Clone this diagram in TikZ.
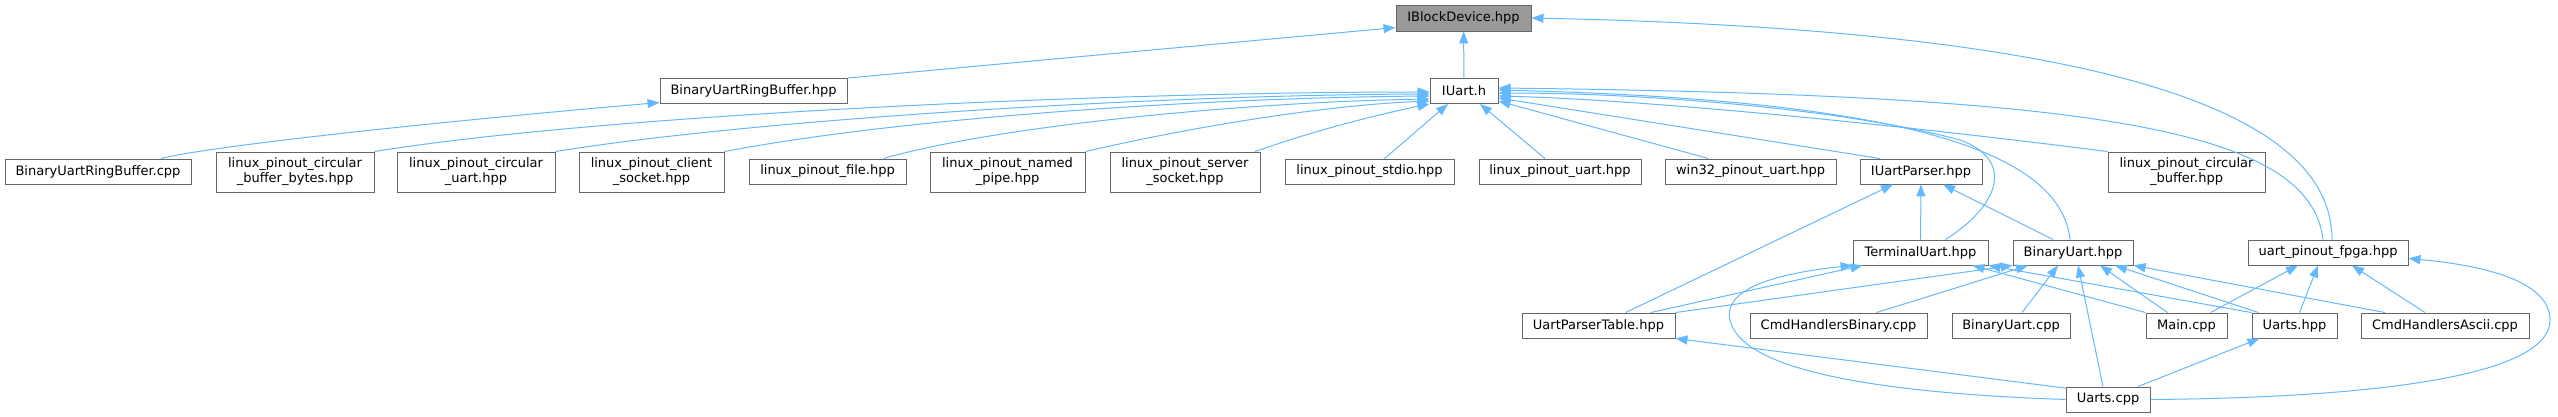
\documentclass[tikz,border=0pt]{standalone}
\usepackage{fontspec}
\setmainfont{DejaVu Sans}
\usepackage{xcolor}
\usetikzlibrary{arrows.meta}

\definecolor{edgeblue}{HTML}{63B8FF}
\definecolor{boxgray}{HTML}{666666}
\definecolor{rootfill}{HTML}{999999}

\begin{document}
\begin{tikzpicture}[x=1pt,y=-1pt,
	filebox/.style={draw=boxgray,line width=0.9pt,fill=white,inner sep=0pt,minimum height=25,font=\fontsize{13}{15}\selectfont,align=center},
	tallbox/.style={filebox,minimum height=40},
	rootbox/.style={filebox,fill=rootfill,minimum height=26},
	incl/.style={draw=edgeblue,line width=1pt,-{Triangle[length=12pt,width=9pt]}}]
		\useasboundingbox (0,0) rectangle (2558,417);
		\node[rootbox,minimum width=135] (iblock) at (1463.5,18) {IBlockDevice.hpp};
		\node[filebox,minimum width=187] (burbh) at (753.5,91) {BinaryUartRingBuffer.hpp};
		\node[filebox,minimum width=68] (iuart) at (1464,91) {IUart.h};
		\node[filebox,minimum width=186] (burbc) at (98,171.5) {BinaryUartRingBuffer.cpp};
		\node[tallbox,minimum width=158] (cbytes) at (295,172) {linux\_pinout\_circular\\\_buffer\_bytes.hpp};
		\node[tallbox,minimum width=158] (cuart) at (476,172) {linux\_pinout\_circular\\\_uart.hpp};
		\node[tallbox,minimum width=145] (client) at (651.5,172) {linux\_pinout\_client\\\_socket.hpp};
		\node[filebox,minimum width=157] (lfile) at (827.5,171.5) {linux\_pinout\_file.hpp};
		\node[tallbox,minimum width=155] (pipe) at (1007.5,172) {linux\_pinout\_named\\\_pipe.hpp};
		\node[tallbox,minimum width=150] (server) at (1185,172) {linux\_pinout\_server\\\_socket.hpp};
		\node[filebox,minimum width=169] (stdio) at (1369.5,171.5) {linux\_pinout\_stdio.hpp};
		\node[filebox,minimum width=162] (luart) at (1560,171.5) {linux\_pinout\_uart.hpp};
		\node[filebox,minimum width=171] (win) at (1750.5,171.5) {win32\_pinout\_uart.hpp};
		\node[filebox,minimum width=122] (parser) at (1921,171.5) {IUartParser.hpp};
		\node[tallbox,minimum width=157] (cbuf) at (2186.5,172) {linux\_pinout\_circular\\\_buffer.hpp};
		\node[filebox,minimum width=135] (term) at (1920.5,252.5) {TerminalUart.hpp};
		\node[filebox,minimum width=120] (buart) at (2073,252.5) {BinaryUart.hpp};
		\node[filebox,minimum width=160] (fpga) at (2328,252.5) {uart\_pinout\_fpga.hpp};
		\node[filebox,minimum width=153] (table) at (1598.5,325.5) {UartParserTable.hpp};
		\node[filebox,minimum width=177] (cmdbin) at (1838.5,325.5) {CmdHandlersBinary.cpp};
		\node[filebox,minimum width=118] (buartcpp) at (2011,325.5) {BinaryUart.cpp};
		\node[filebox,minimum width=81] (main) at (2186.5,325.5) {Main.cpp};
		\node[filebox,minimum width=85] (uartsh) at (2294.5,325.5) {Uarts.hpp};
		\node[filebox,minimum width=168] (cmdascii) at (2445,325.5) {CmdHandlersAscii.cpp};
		\node[filebox,minimum width=84] (uartsc) at (2108,399.5) {Uarts.cpp};
		\draw[incl] (iuart) -- (iblock);
		\draw[incl] (burbh.north east) -- (iblock.188);
		\draw[incl] ([xshift=4pt]fpga.north) .. controls (2332,110) and (2100,30) .. (iblock.east);
		\draw[incl] ([xshift=63pt]burbc.north) .. controls (200,148) and (400,125) .. (burbh.187);
		\draw[incl] (cbytes.north east) .. controls (600,115) and (1100,92) .. ([yshift=-1pt]iuart.west);
		\draw[incl] (cuart.north east) .. controls (750,120) and (1150,95) .. ([yshift=-3pt]iuart.west);
		\draw[incl] (client.north east) .. controls (900,118) and (1200,98) .. ([yshift=-5pt]iuart.west);
		\draw[incl] ([xshift=56pt]lfile.north) .. controls (1000,125) and (1250,102) .. ([yshift=-8pt]iuart.west);
		\draw[incl] (pipe.north east) .. controls (1200,125) and (1330,105) .. ([yshift=-10pt]iuart.west);
		\draw[incl] ([xshift=70pt]server.north) .. controls (1330,125) and (1400,110) .. (iuart.south west);
		\draw[incl] ([xshift=15pt]stdio.north) -- ([xshift=-16pt]iuart.south);
		\draw[incl] ([xshift=-15pt]luart.north) -- ([xshift=16pt]iuart.south);
		\draw[incl] ([xshift=-42pt]win.north) -- ([yshift=-10pt]iuart.east);
		\draw[incl] ([xshift=-41pt]parser.north) -- ([yshift=-7pt]iuart.east);
		\draw[incl] (cbuf.north west) .. controls (1900,125) and (1650,100) .. ([yshift=-5pt]iuart.east);
		\draw[incl] ([xshift=25pt]term.north) .. controls (2000,205) and (2015,160) .. (1960,140) .. controls (1850,110) and (1650,93) .. ([yshift=-2pt]iuart.east);
		\draw[incl] ([xshift=-3pt]buart.north) .. controls (2060,150) and (1900,100) .. ([yshift=1pt]iuart.east);
		\draw[incl] ([xshift=-5pt]fpga.north) .. controls (2310,130) and (2100,95) .. ([yshift=3pt]iuart.east);
		\draw[incl] (term.north) -- (parser.south);
		\draw[incl] ([xshift=-20pt]buart.north) -- ([xshift=22pt]parser.south);
		\draw[incl] ([xshift=27pt]table.north) -- ([xshift=-28pt]parser.south);
		\draw[incl] ([xshift=52pt]table.north) -- ([xshift=-58pt]term.south);
		\draw[incl] (table.north east) -- (buart.south west);
		\draw[incl] (uartsc.west) .. controls (1850,392) and (1740,365) .. (1730,320) .. controls (1722,285) and (1790,272) .. (term.south west);
		\draw[incl] (uartsc.165) -- (table.south east);
		\draw[incl] ([xshift=-5pt]uartsc.north) -- ([xshift=5pt]buart.south);
		\draw[incl] ([xshift=30pt]uartsc.north) -- ([xshift=-35pt]uartsh.south);
		\draw[incl] (uartsc.east) .. controls (2350,398) and (2550,380) .. (2550,320) .. controls (2550,280) and (2480,265) .. ([yshift=-6pt]fpga.east);
		\draw[incl] (main.north west) -- ([xshift=52pt]term.south);
		\draw[incl] ([xshift=-19pt]main.north) -- ([xshift=27pt]buart.south);
		\draw[incl] ([xshift=24pt]main.north) -- ([xshift=-30pt]fpga.south);
		\draw[incl] (uartsh.north west) -- (term.south east);
		\draw[incl] ([xshift=-36pt]uartsh.north) -- ([xshift=42pt]buart.south);
		\draw[incl] ([xshift=5pt]uartsh.north) -- ([xshift=-10pt]fpga.south);
		\draw[incl] ([xshift=-60pt]cmdascii.north) -- (buart.south east);
		\draw[incl] ([xshift=-20pt]cmdascii.north) -- ([xshift=24pt]fpga.south);
		\draw[incl] ([xshift=38pt]cmdbin.north) -- ([xshift=-45pt]buart.south);
		\draw[incl] ([xshift=11pt]buartcpp.north) -- ([xshift=-15pt]buart.south);
	\end{tikzpicture}
\end{document}
